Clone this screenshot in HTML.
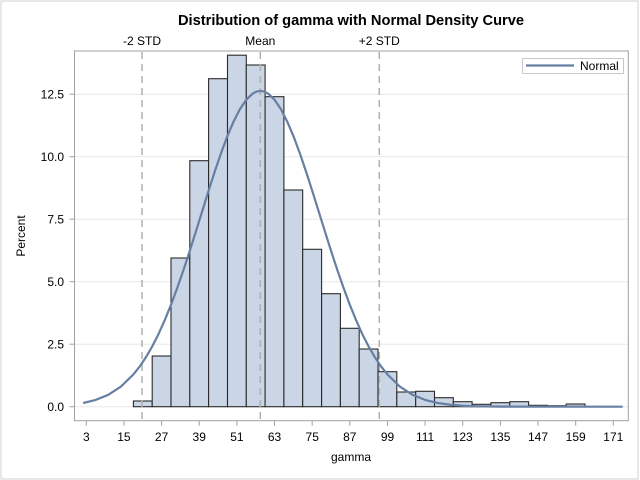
<!DOCTYPE html>
<html><head><meta charset="utf-8"><style>
html,body{margin:0;padding:0;background:#fff;}
svg{display:block;font-family:"Liberation Sans",Arial,sans-serif;}
</style></head><body>
<svg width="640" height="480" viewBox="0 0 640 480" xmlns="http://www.w3.org/2000/svg">
<rect x="0" y="0" width="640" height="480" fill="#fff"/>
<rect x="1" y="1" width="637" height="478" fill="none" stroke="#d0d0d0" stroke-width="1"/>
<text x="351" y="25" text-anchor="middle" font-size="14.67" font-weight="bold" fill="#000">Distribution of gamma with Normal Density Curve</text>
<g font-size="12" fill="#000" text-anchor="middle">
<text x="142" y="45">-2 STD</text>
<text x="260.3" y="45">Mean</text>
<text x="379.3" y="45">+2 STD</text>
</g>
<g stroke="#e8e8e8" stroke-width="1">
<line x1="75" y1="406.7" x2="628" y2="406.7"/>
<line x1="75" y1="344.2" x2="628" y2="344.2"/>
<line x1="75" y1="281.7" x2="628" y2="281.7"/>
<line x1="75" y1="219.2" x2="628" y2="219.2"/>
<line x1="75" y1="156.7" x2="628" y2="156.7"/>
<line x1="75" y1="94.2" x2="628" y2="94.2"/>
</g>
<g fill="#cad5e5" stroke="#2a2a2a" stroke-width="1.1">
<rect x="133.4" y="401.0" width="18.8" height="5.7"/>
<rect x="152.2" y="356.0" width="18.8" height="50.7"/>
<rect x="171.0" y="258.0" width="18.8" height="148.7"/>
<rect x="189.8" y="160.7" width="18.8" height="246.0"/>
<rect x="208.6" y="78.7" width="18.9" height="328.0"/>
<rect x="227.5" y="55.2" width="18.8" height="351.5"/>
<rect x="246.3" y="65.0" width="18.8" height="341.7"/>
<rect x="265.1" y="96.7" width="18.8" height="310.0"/>
<rect x="283.9" y="190.0" width="18.8" height="216.7"/>
<rect x="302.7" y="249.3" width="18.9" height="157.4"/>
<rect x="321.6" y="293.7" width="18.8" height="113.0"/>
<rect x="340.4" y="328.3" width="18.8" height="78.4"/>
<rect x="359.2" y="349.0" width="18.8" height="57.7"/>
<rect x="378.0" y="371.7" width="18.8" height="35.0"/>
<rect x="396.8" y="392.0" width="18.9" height="14.7"/>
<rect x="415.7" y="391.3" width="18.8" height="15.4"/>
<rect x="434.5" y="397.7" width="18.8" height="9.0"/>
<rect x="453.3" y="401.7" width="18.8" height="5.0"/>
<rect x="472.1" y="404.3" width="18.8" height="2.4"/>
<rect x="490.9" y="402.7" width="18.9" height="4.0"/>
<rect x="509.8" y="401.7" width="18.8" height="5.0"/>
<rect x="528.6" y="405.3" width="18.8" height="1.4"/>
<rect x="547.4" y="405.7" width="18.8" height="1.0"/>
<rect x="566.2" y="404.0" width="18.8" height="2.7"/>
</g>
<g stroke="#b0b0b0" stroke-width="1.5" stroke-dasharray="7,5">
<line x1="142" y1="52" x2="142" y2="420"/>
<line x1="260.3" y1="52" x2="260.3" y2="420"/>
<line x1="379.3" y1="52" x2="379.3" y2="420"/>
</g>
<polyline fill="none" stroke="#667fa2" stroke-width="2.2" stroke-linejoin="round" points="83.16,403.0 95.71,399.9 108.26,394.8 120.81,386.7 133.36,374.5 139.63,366.6 145.9,357.3 152.18,346.5 158.45,334.2 164.73,320.2 171.0,304.8 177.27,287.9 183.55,269.8 189.82,250.65 196.1,230.8 202.37,210.65 208.64,190.6 214.91,171.1 221.19,152.7 227.46,135.9 233.74,121.2 240.01,108.98 246.29,99.7 252.56,93.7 256.5,91.6 260.42,90.95 264.34,91.6 268.26,93.7 274.52,99.7 280.81,108.98 287.07,121.2 293.36,135.9 299.62,152.7 305.91,171.1 312.16,190.6 318.45,210.65 324.71,230.8 331.0,250.65 337.26,269.8 343.55,287.9 349.81,304.8 356.1,320.2 362.36,334.2 368.65,346.5 374.9,357.3 381.19,366.6 387.45,374.5 400.0,386.7 412.55,394.8 425.1,399.9 437.64,403.0 450.19,404.77 462.74,405.74 475.29,406.24 500.38,406.6 622.74,406.7"/>
<rect x="74.5" y="51" width="553.8" height="369.7" fill="none" stroke="#a0a0a0" stroke-width="1"/>
<g stroke="#a0a0a0" stroke-width="1">
<line x1="69.5" y1="406.7" x2="74.5" y2="406.7"/>
<line x1="69.5" y1="344.2" x2="74.5" y2="344.2"/>
<line x1="69.5" y1="281.7" x2="74.5" y2="281.7"/>
<line x1="69.5" y1="219.2" x2="74.5" y2="219.2"/>
<line x1="69.5" y1="156.7" x2="74.5" y2="156.7"/>
<line x1="69.5" y1="94.2" x2="74.5" y2="94.2"/>
<line x1="86.3" y1="420.7" x2="86.3" y2="425.7"/>
<line x1="123.9" y1="420.7" x2="123.9" y2="425.7"/>
<line x1="161.6" y1="420.7" x2="161.6" y2="425.7"/>
<line x1="199.2" y1="420.7" x2="199.2" y2="425.7"/>
<line x1="236.9" y1="420.7" x2="236.9" y2="425.7"/>
<line x1="274.5" y1="420.7" x2="274.5" y2="425.7"/>
<line x1="312.2" y1="420.7" x2="312.2" y2="425.7"/>
<line x1="349.8" y1="420.7" x2="349.8" y2="425.7"/>
<line x1="387.5" y1="420.7" x2="387.5" y2="425.7"/>
<line x1="425.1" y1="420.7" x2="425.1" y2="425.7"/>
<line x1="462.7" y1="420.7" x2="462.7" y2="425.7"/>
<line x1="500.4" y1="420.7" x2="500.4" y2="425.7"/>
<line x1="538.0" y1="420.7" x2="538.0" y2="425.7"/>
<line x1="575.7" y1="420.7" x2="575.7" y2="425.7"/>
<line x1="613.3" y1="420.7" x2="613.3" y2="425.7"/>
</g>
<g font-size="12" fill="#000" text-anchor="end">
<text x="64" y="411">0.0</text>
<text x="64" y="348.5">2.5</text>
<text x="64" y="286">5.0</text>
<text x="64" y="223.5">7.5</text>
<text x="64" y="161">10.0</text>
<text x="64" y="98.5">12.5</text>
</g>
<g font-size="12" fill="#000" text-anchor="middle">
<text x="86.3" y="441">3</text>
<text x="123.9" y="441">15</text>
<text x="161.6" y="441">27</text>
<text x="199.2" y="441">39</text>
<text x="236.9" y="441">51</text>
<text x="274.5" y="441">63</text>
<text x="312.2" y="441">75</text>
<text x="349.8" y="441">87</text>
<text x="387.5" y="441">99</text>
<text x="425.1" y="441">111</text>
<text x="462.7" y="441">123</text>
<text x="500.4" y="441">135</text>
<text x="538.0" y="441">147</text>
<text x="575.7" y="441">159</text>
<text x="613.3" y="441">171</text>
<text x="351" y="461">gamma</text>
<text transform="translate(25,236) rotate(-90)">Percent</text>
</g>
<rect x="522.5" y="58.5" width="101" height="15" fill="#fff" stroke="#c8c8c8" stroke-width="1"/>
<line x1="526" y1="65.5" x2="574" y2="65.5" stroke="#667fa2" stroke-width="2.2"/>
<text x="580" y="70" font-size="12" fill="#000">Normal</text>
</svg>
</body></html>
